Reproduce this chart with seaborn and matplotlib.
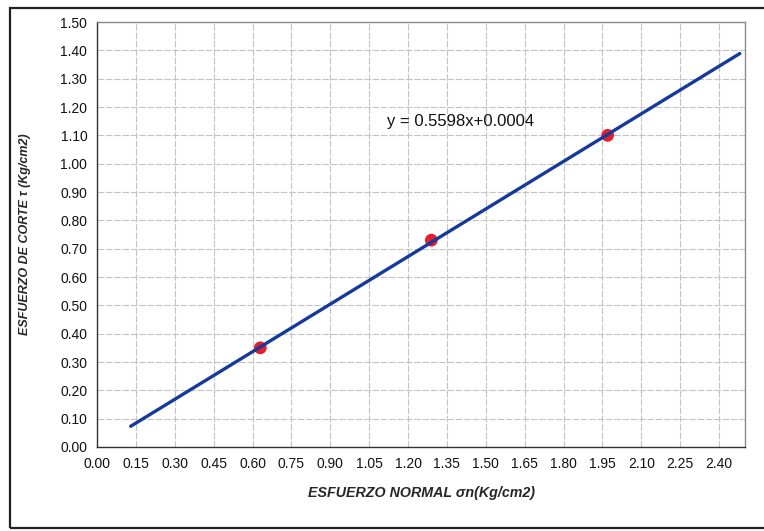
import numpy as np
import pandas as pd
import matplotlib
matplotlib.use("Agg")
import matplotlib.pyplot as plt
import seaborn as sns
from matplotlib.patches import Rectangle

# datos del ensayo
esfuerzo_normal = [0.63, 1.29, 1.97]
esfuerzo_corte = [0.35, 0.73, 1.10]

# recta de ajuste
pendiente = 0.5598
intercepto = 0.0004
recta_x = [0.13, 2.48]

x_ticks = [0.00, 0.15, 0.30, 0.45, 0.60, 0.75, 0.90, 1.05, 1.20,
           1.35, 1.50, 1.65, 1.80, 1.95, 2.10, 2.25, 2.40]
y_ticks = [0.00, 0.10, 0.20, 0.30, 0.40, 0.50, 0.60, 0.70, 0.80,
           0.90, 1.00, 1.10, 1.20, 1.30, 1.40, 1.50]

sns.set_style("white")
plt.rcParams['font.family'] = ['Liberation Sans', 'DejaVu Sans']

df_puntos = pd.DataFrame({'x': esfuerzo_normal, 'y': esfuerzo_corte})
df_recta = pd.DataFrame({'x': recta_x,
                         'y': [pendiente * v + intercepto for v in recta_x]})

fig = plt.figure(figsize=(7.64, 5.31), dpi=100)
ax = fig.add_axes([97 / 764, 1 - 447 / 531, (745 - 97) / 764, (447 - 22) / 531])

# marco exterior
fig.patches.append(Rectangle((10 / 764, 1 - 528 / 531), 760 / 764, 520 / 531,
                             transform=fig.transFigure, fill=False,
                             edgecolor='#222222', linewidth=1.6, zorder=0))

sns.scatterplot(data=df_puntos, x='x', y='y', ax=ax, color='#e3202a',
                s=85, edgecolor='none', zorder=3, legend=False)
sns.lineplot(data=df_recta, x='x', y='y', ax=ax, color='#163a9c',
             linewidth=2.4, zorder=4)

ax.set_xlim(0, 2.5)
ax.set_ylim(0, 1.5)
ax.set_xticks(x_ticks)
ax.set_yticks(y_ticks)
ax.set_xticklabels([f"{v:.2f}" for v in x_ticks])
ax.set_yticklabels([f"{v:.2f}" for v in y_ticks])
ax.tick_params(axis='both', labelsize=10, direction='out', length=4,
               width=0.8, color='#333333', labelcolor='#111111', pad=3)

ax.grid(True, color='#c4c4c4', linestyle=(0, (6, 1.5)), linewidth=0.8)
ax.set_axisbelow(True)
for lado in ['left', 'bottom']:
    ax.spines[lado].set_color('#333333')
    ax.spines[lado].set_linewidth(1.0)
for lado in ['top', 'right']:
    ax.spines[lado].set_color('#8a8a8a')
    ax.spines[lado].set_linewidth(1.0)

ax.set_xlabel('ESFUERZO NORMAL σn(Kg/cm2)', fontsize=10.3,
              fontweight='bold', style='italic', labelpad=11)
ax.set_ylabel('ESFUERZO DE CORTE τ (Kg/cm2)', fontsize=9,
              fontweight='bold', style='italic', labelpad=21)

ax.text(1.12, 1.148, 'y = 0.5598x+0.0004', fontsize=12, va='center',
        ha='left', color='#111111')

fig.savefig('out.png', dpi=100)
